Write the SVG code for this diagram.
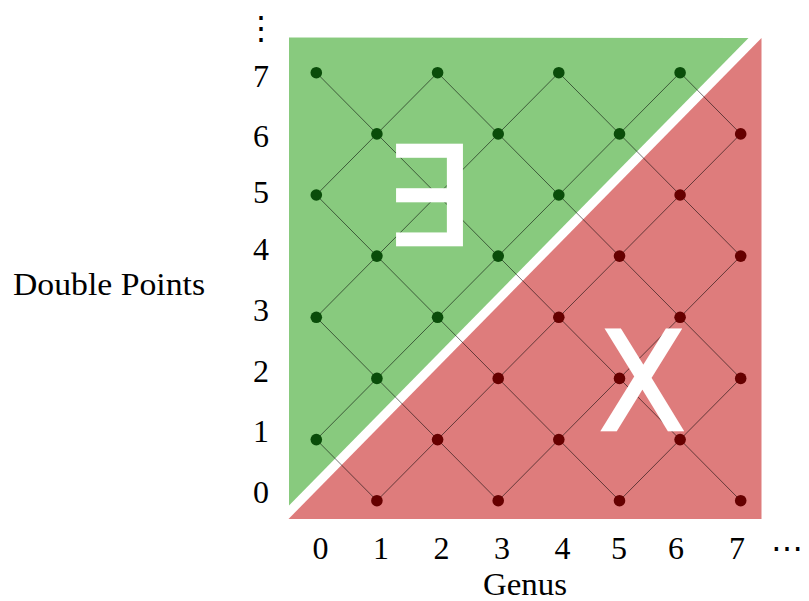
<svg xmlns="http://www.w3.org/2000/svg" width="809" height="601" viewBox="0 0 809 601">
<style>
.lbl{font-family:"Liberation Serif","DejaVu Serif",serif;font-size:32px;fill:#000;text-anchor:middle}
.big{font-family:"DejaVu Sans","Liberation Sans",sans-serif;font-size:137px;fill:#fff;stroke:#fff;stroke-width:2.5;text-anchor:middle}
.edge{stroke:#000;stroke-opacity:0.55;stroke-width:1;fill:none}
.g{fill:#0a4d0a}
.r{fill:#660000}
</style>
<rect width="809" height="601" fill="#fff"/>
<g id="regions">
<polygon id="exists-region" points="289,37.5 748.5,38 289,505.5" fill="#88ca7e"/>
<polygon id="no-region" points="761.5,38 761.5,519 288.5,519" fill="#de7c7c"/>
</g>
<g id="connectors">
<line class="edge" x1="316.3" y1="439.6" x2="376.9" y2="500.7"/>
<line class="edge" x1="316.3" y1="317.3" x2="498.2" y2="500.7"/>
<line class="edge" x1="316.3" y1="195.0" x2="619.5" y2="500.7"/>
<line class="edge" x1="316.3" y1="72.7" x2="740.7" y2="500.7"/>
<line class="edge" x1="437.6" y1="72.7" x2="740.7" y2="378.4"/>
<line class="edge" x1="558.8" y1="72.7" x2="740.7" y2="256.1"/>
<line class="edge" x1="680.1" y1="72.7" x2="740.7" y2="133.9"/>
<line class="edge" x1="316.3" y1="195.0" x2="437.6" y2="72.7"/>
<line class="edge" x1="316.3" y1="317.3" x2="558.8" y2="72.7"/>
<line class="edge" x1="316.3" y1="439.6" x2="680.1" y2="72.7"/>
<line class="edge" x1="376.9" y1="500.7" x2="740.7" y2="133.9"/>
<line class="edge" x1="498.2" y1="500.7" x2="740.7" y2="256.1"/>
<line class="edge" x1="619.5" y1="500.7" x2="740.7" y2="378.4"/>
</g>
<g id="nodes">
<circle id="n0-1" class="g" cx="316.3" cy="439.6" r="5.8"/>
<circle id="n0-3" class="g" cx="316.3" cy="317.3" r="5.8"/>
<circle id="n0-5" class="g" cx="316.3" cy="195.0" r="5.8"/>
<circle id="n0-7" class="g" cx="316.3" cy="72.7" r="5.8"/>
<circle id="n1-2" class="g" cx="376.9" cy="378.4" r="5.8"/>
<circle id="n1-4" class="g" cx="376.9" cy="256.1" r="5.8"/>
<circle id="n1-6" class="g" cx="376.9" cy="133.9" r="5.8"/>
<circle id="n2-3" class="g" cx="437.6" cy="317.3" r="5.8"/>
<circle id="n2-5" class="g" cx="437.6" cy="195.0" r="5.8"/>
<circle id="n2-7" class="g" cx="437.6" cy="72.7" r="5.8"/>
<circle id="n3-4" class="g" cx="498.2" cy="256.1" r="5.8"/>
<circle id="n3-6" class="g" cx="498.2" cy="133.9" r="5.8"/>
<circle id="n4-5" class="g" cx="558.8" cy="195.0" r="5.8"/>
<circle id="n4-7" class="g" cx="558.8" cy="72.7" r="5.8"/>
<circle id="n5-6" class="g" cx="619.5" cy="133.9" r="5.8"/>
<circle id="n6-7" class="g" cx="680.1" cy="72.7" r="5.8"/>
<circle id="n1-0" class="r" cx="376.9" cy="500.7" r="5.8"/>
<circle id="n2-1" class="r" cx="437.6" cy="439.6" r="5.8"/>
<circle id="n3-0" class="r" cx="498.2" cy="500.7" r="5.8"/>
<circle id="n3-2" class="r" cx="498.2" cy="378.4" r="5.8"/>
<circle id="n4-1" class="r" cx="558.8" cy="439.6" r="5.8"/>
<circle id="n4-3" class="r" cx="558.8" cy="317.3" r="5.8"/>
<circle id="n5-0" class="r" cx="619.5" cy="500.7" r="5.8"/>
<circle id="n5-2" class="r" cx="619.5" cy="378.4" r="5.8"/>
<circle id="n5-4" class="r" cx="619.5" cy="256.1" r="5.8"/>
<circle id="n6-1" class="r" cx="680.1" cy="439.6" r="5.8"/>
<circle id="n6-3" class="r" cx="680.1" cy="317.3" r="5.8"/>
<circle id="n6-5" class="r" cx="680.1" cy="195.0" r="5.8"/>
<circle id="n7-0" class="r" cx="740.7" cy="500.7" r="5.8"/>
<circle id="n7-2" class="r" cx="740.7" cy="378.4" r="5.8"/>
<circle id="n7-4" class="r" cx="740.7" cy="256.1" r="5.8"/>
<circle id="n7-6" class="r" cx="740.7" cy="133.9" r="5.8"/>
</g>
<g id="region-labels">
<text class="big" x="427" y="245">∃</text>
<text class="big" transform="translate(642.5,430) scale(0.93,1)" x="0" y="0">X</text>
</g>
<g id="axes">
<text class="lbl" x="261" y="87">7</text>
<text class="lbl" x="261" y="147">6</text>
<text class="lbl" x="261" y="203">5</text>
<text class="lbl" x="261" y="260">4</text>
<text class="lbl" x="261" y="321">3</text>
<text class="lbl" x="261" y="382">2</text>
<text class="lbl" x="261" y="442">1</text>
<text class="lbl" x="261" y="503">0</text>
<text class="lbl" x="261" y="39">⋮</text>
<text class="lbl" x="320.5" y="559">0</text>
<text class="lbl" x="381" y="559">1</text>
<text class="lbl" x="441.5" y="559">2</text>
<text class="lbl" x="502" y="559">3</text>
<text class="lbl" x="562.5" y="559">4</text>
<text class="lbl" x="619" y="559">5</text>
<text class="lbl" x="676" y="559">6</text>
<text class="lbl" x="737" y="559">7</text>
<text class="lbl" x="786.5" y="559">⋯</text>
<text class="lbl" x="525" y="595" textLength="84" lengthAdjust="spacingAndGlyphs">Genus</text>
<text class="lbl" x="109" y="295" textLength="192" lengthAdjust="spacingAndGlyphs">Double Points</text>
</g>
</svg>
